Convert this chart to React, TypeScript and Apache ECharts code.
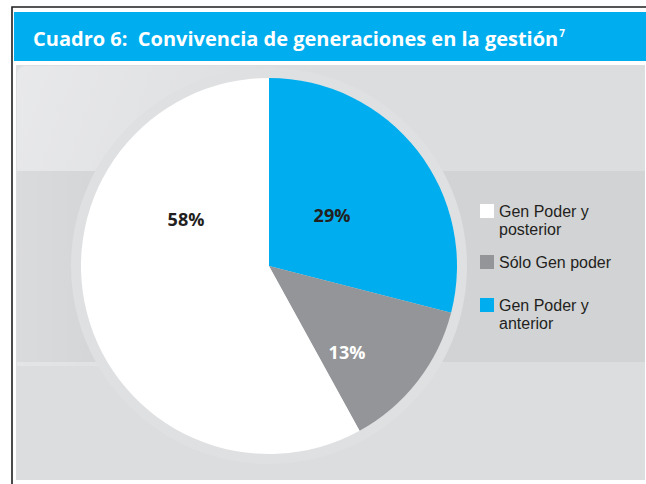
import React, { useEffect, useRef } from "react";
import * as echarts from "echarts";

const titleText = "Cuadro 6:  Convivencia de generaciones en la gestión";
const titleSup = "7";
const categories = ["Gen Poder y anterior", "Sólo Gen poder", "Gen Poder y posterior"];
const values = [29, 13, 58];
const sliceColors = ["#00aeef", "#939598", "#ffffff"];
const labelColors = ["#231f20", "#ffffff", "#231f20"];
const legendOrder = ["Gen Poder y posterior", "Sólo Gen poder", "Gen Poder y anterior"];

export default function App() {
  const ref = useRef<HTMLDivElement>(null);
  useEffect(() => {
    if (!ref.current) return;
    const chart = echarts.init(ref.current, undefined, { renderer: "svg" });
    const cx = 269;
    const cy = 266;
    const R = 188;
    const labelOffsets: Record<string, [number, number]> = {
      "Gen Poder y anterior": [63, -51],
      "Sólo Gen poder": [78, 86],
      "Gen Poder y posterior": [-83, -47],
    };
    const legendTops = [184, 253, 278];
    const font = "'Open Sans', 'Noto Sans', sans-serif";
    const legendFont = "'Liberation Sans', Arial, sans-serif";
    const option: any = {
      animation: false,
      backgroundColor: "#ffffff",
      graphic: [
        { type: "rect", z: -10, shape: { x: 12, y: 7, width: 660, height: 500 }, style: { fill: "#ffffff", stroke: "#1e1e1e", lineWidth: 1.6 } },
        { type: "rect", z: -9, shape: { x: 14, y: 12, width: 632, height: 49 }, style: { fill: "#00aeef" } },
        { type: "rect", z: -9, shape: { x: 16, y: 65, width: 629, height: 415 }, style: { fill: "#dcdddf" } },
        {
          type: "rect", z: -8, shape: { x: 17, y: 66, width: 260, height: 300, r: [8, 0, 0, 0] },
          style: {
            fill: new echarts.graphic.LinearGradient(0, 0, 1, 0.4, [
              { offset: 0, color: "rgba(255,255,255,0.35)" },
              { offset: 1, color: "rgba(255,255,255,0)" },
            ]),
          },
        },
        { type: "rect", z: -7, shape: { x: 17, y: 171, width: 628, height: 191 }, style: { fill: "#d2d3d5" } },
        {
          type: "rect", z: -6, shape: { x: 17, y: 171, width: 120, height: 191 },
          style: {
            fill: new echarts.graphic.LinearGradient(0, 0, 1, 0, [
              { offset: 0, color: "rgba(255,255,255,0.18)" },
              { offset: 1, color: "rgba(255,255,255,0)" },
            ]),
          },
        },
        { type: "circle", z: -5, shape: { cx, cy, r: R + 10 }, style: { fill: "#dfe0e2" } },
        {
          type: "text", z: 5, x: 33, y: 38,
          style: {
            text: `{t|${titleText}}{s|${titleSup}}`,
            verticalAlign: "middle",
            rich: {
              t: { fontFamily: font, fontWeight: "bold", fontSize: 20, fill: "#ffffff", verticalAlign: "middle" },
              s: { fontFamily: font, fontWeight: "bold", fontSize: 10, fill: "#ffffff", verticalAlign: "top", padding: [0, 0, 8, 1] },
            },
          },
        },
      ],
      legend: legendOrder.map((name, i) => ({
        data: [name],
        orient: "vertical",
        left: 480,
        top: legendTops[i],
        padding: 0,
        itemWidth: 14,
        itemHeight: 14,
        selectedMode: false,
        icon: "rect",
        formatter: (n: string) =>
          n.indexOf(" y ") >= 0
            ? "{sp| }\n{t|" + n.replace(" y ", " y}\n{t|") + "}"
            : "{t|" + n + "}",
        textStyle: {
          fontFamily: legendFont,
          fontSize: 16,
          lineHeight: 18,
          color: "#231f20",
          rich: {
            sp: { fontFamily: legendFont, fontSize: 16, lineHeight: 18, color: "rgba(0,0,0,0)" },
            t: { fontFamily: legendFont, fontSize: 16, lineHeight: 18, color: "#231f20" },
          },
        },
      })),
      series: [
        {
          type: "pie",
          center: [cx, cy],
          radius: R,
          startAngle: 90,
          clockwise: true,
          silent: true,
          itemStyle: { borderWidth: 0 },
          labelLine: { show: false },
          label: {
            show: true,
            position: "inside",
            formatter: "{c}%",
            fontFamily: font,
            fontWeight: "bold",
            fontSize: 18,
          },
          labelLayout: (params: any) => {
            const name = categories[params.dataIndex];
            const off = labelOffsets[name];
            return { x: cx + off[0], y: cy + off[1], align: "center", verticalAlign: "middle" };
          },
          data: categories.map((name, i) => ({
            name,
            value: values[i],
            itemStyle: { color: sliceColors[i] },
            label: { color: labelColors[i] },
          })),
        },
      ],
    };
    chart.setOption(option);
    return () => chart.dispose();
  }, []);
  return <div ref={ref} style={{ position: "fixed", left: 0, top: 0, width: 646, height: 484 }} />;
}
